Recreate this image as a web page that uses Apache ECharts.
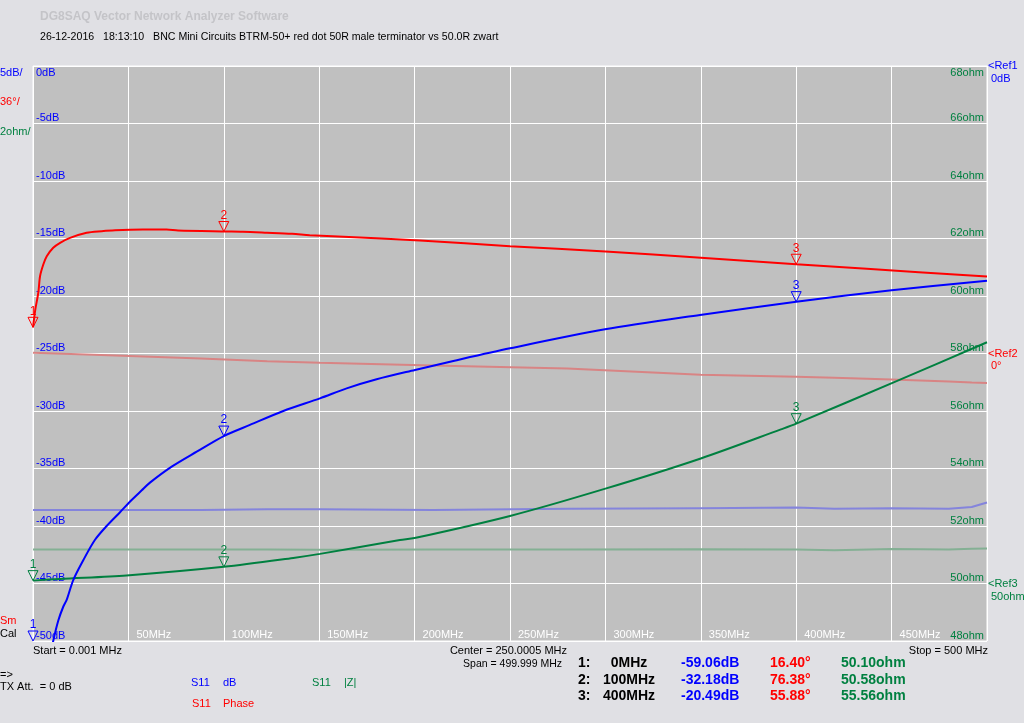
<!DOCTYPE html>
<html>
<head>
<meta charset="utf-8">
<script src="https://cdn.jsdelivr.net/npm/echarts@6/dist/echarts.min.js"></script>
<style>
html,body{margin:0;padding:0;background:#E0E0E4;}
#chart{width:1024px;height:723px;}
</style>
</head>
<body>
<div id="chart"></div>
<script>
// ---- data (frequencies in MHz) ----
const freqPhase = [0.001, 1.2, 2.8, 3.7, 5.4, 7.2, 10.6, 14.2, 19.4, 28.1, 36, 43, 57.6, 70, 76, 100, 110, 122.6, 135.8, 145, 157, 202.8, 250, 300, 350, 400, 437, 500];
const s11Phase = [16.4, 27.5, 38.2, 48.4, 55.7, 60.9, 66.2, 69.3, 72.4, 75.6, 76.6, 77.2, 77.6, 77.6, 77.0, 76.38, 76.2, 75.6, 74.9, 74.1, 73.4, 70.7, 67.2, 63.9, 59.9, 55.88, 53.0, 48.2];

const freqDb = [0.001, 5, 8, 10.6, 13.3, 15.9, 17.7, 21.1, 26.4, 32.5, 38.6, 45.6, 51.7, 57, 61.3, 72.7, 85.8, 100, 113.7, 131.2, 150.4, 164.4, 180.1, 200.2, 220.3, 250, 299.8, 349.6, 400, 450, 500];
const s11Db = [-59.06, -55.5, -52.2, -50, -48.2, -47.0, -46.4, -44.7, -42.96, -41.2, -40.0, -38.8, -37.74, -36.9, -36.23, -34.84, -33.54, -32.18, -31.21, -30.0, -28.9, -28.03, -27.24, -26.43, -25.65, -24.55, -22.9, -21.65, -20.49, -19.5, -18.67];

const freqZ = [0.001, 14.2, 49, 100, 136.4, 150.4, 192.3, 200, 250, 300, 350, 392, 400, 452.6, 500];
const s11Z = [50.10, 50.16, 50.28, 50.58, 50.89, 51.03, 51.51, 51.58, 52.35, 53.3, 54.35, 55.36, 55.56, 57.04, 58.39];

// memory (calibration standard) traces
const memFreq = [0.001, 35.6, 87.9, 122.8, 150.4, 209.6, 280, 350, 400, 420, 450, 480, 492, 500];
const memPhase = [0.4, -1.0, -3.1, -4.8, -5.8, -7.5, -9.4, -13.3, -14.6, -15.2, -16.3, -17.6, -18.2, -18.4];
const memDb = [-38.6, -38.6, -38.6, -38.55, -38.55, -38.6, -38.5, -38.45, -38.4, -38.5, -38.45, -38.5, -38.35, -37.95];
const memZ = [51.18, 51.18, 51.18, 51.18, 51.17, 51.18, 51.18, 51.19, 51.18, 51.16, 51.2, 51.18, 51.21, 51.22];

// markers
const markerNo = [1, 2, 3];
const markerFreq = [0, 100, 400];
const markerDb = [-59.06, -32.18, -20.49];
const markerDeg = [16.40, 76.38, 55.88];
const markerOhm = [50.10, 50.58, 55.56];

// axis ticks
const xTicks = { min: 0, max: 500, step: 50 };
const dbTicks = { min: -50, max: 0, step: 5 };
const degTicks = { min: -180, max: 180, step: 36 };
const ohmTicks = { min: 48, max: 68, step: 2 };

// ---- styles ----
const FONT = '"Liberation Sans", Arial, sans-serif';
const C_BLUE = '#0000FF', C_RED = '#FF0000', C_GREEN = '#008040';
const C_LBLUE = '#8484DC', C_LRED = '#D88484', C_LGREEN = '#84B094';

const zip = (a, b) => a.map((v, i) => [v, b[i]]);

function markerRender(color) {
  return function (params, api) {
    const cs = params.coordSys;
    const p = api.coord([api.value(0), api.value(1)]);
    const x = p[0];
    const y = Math.min(Math.max(p[1], cs.y), cs.y + cs.height);
    return {
      type: 'group',
      children: [
        { type: 'polygon', shape: { points: [[x - 5, y - 10], [x + 5, y - 10], [x, y]] },
          style: { fill: 'none', stroke: color, lineWidth: 1 } },
        { type: 'text', x: x, y: y - 10,
          style: { text: String(api.value(2)), fill: color, font: '12px ' + FONT, align: 'center', verticalAlign: 'bottom' } }
      ]
    };
  };
}

function markerSeries(yIdx, vals, color) {
  return {
    type: 'custom', xAxisIndex: 0, yAxisIndex: yIdx, clip: false, silent: true, z: 10,
    renderItem: markerRender(color),
    encode: { x: 0, y: 1 },
    data: markerFreq.map((f, i) => [f, vals[i], markerNo[i]])
  };
}

function txt(text, x, y, color, opts) {
  opts = opts || {};
  return {
    type: 'text', x: x, y: y, silent: true,
    style: { text: text, fill: color, font: (opts.bold ? 'bold ' : '') + (opts.size || 11) + 'px ' + FONT,
      align: opts.align || 'left', verticalAlign: 'middle' }
  };
}

const graphics = [
  txt('DG8SAQ Vector Network Analyzer Software', 40, 17, '#C4C4C8', { bold: true, size: 12 }),
  txt('26-12-2016   18:13:10   BNC Mini Circuits BTRM-50+ red dot 50R male terminator vs 50.0R zwart', 40, 37, '#000000', { size: 10.6 }),
  txt('5dB/', 0, 73, C_BLUE),
  txt('36°/', 0, 102, C_RED),
  txt('2ohm/', 0, 132, C_GREEN),
  txt('Sm', 0, 621, C_RED),
  txt('Cal', 0, 634, '#000000'),
  txt('0dB', 36, 73, C_BLUE),
  txt('68ohm', 984, 73, C_GREEN, { align: 'right' }),
  txt('<Ref1', 988, 66, C_BLUE),
  txt('0dB', 991, 79, C_BLUE),
  txt('<Ref2', 988, 354, C_RED),
  txt('0°', 991, 366, C_RED),
  txt('<Ref3', 988, 584, C_GREEN),
  txt('50ohm', 991, 597, C_GREEN),
  txt('Start = 0.001 MHz', 33, 651, '#000000'),
  txt('Center = 250.0005 MHz', 567, 651, '#000000', { align: 'right' }),
  txt('Span = 499.999 MHz', 562, 664, '#000000', { align: 'right', size: 10.5 }),
  txt('Stop = 500 MHz', 988, 651, '#000000', { align: 'right' }),
  txt('=>', 0, 675, '#000000'),
  txt('TX Att.  = 0 dB', 0, 687, '#000000'),
  txt('S11', 191, 683, C_BLUE), txt('dB', 223, 683, C_BLUE),
  txt('S11', 312, 683, C_GREEN), txt('|Z|', 344, 683, C_GREEN),
  txt('S11', 192, 704, C_RED), txt('Phase', 223, 704, C_RED)
];
const rowY = [663, 680, 696];
markerNo.forEach((n, i) => {
  graphics.push(txt(n + ':', 578, rowY[i], '#000000', { bold: true, size: 14 }));
  graphics.push(txt(markerFreq[i] + 'MHz', 629, rowY[i], '#000000', { bold: true, size: 14, align: 'center' }));
  graphics.push(txt(markerDb[i].toFixed(2) + 'dB', 681, rowY[i], C_BLUE, { bold: true, size: 14 }));
  graphics.push(txt(markerDeg[i].toFixed(2) + '°', 770, rowY[i], C_RED, { bold: true, size: 14 }));
  graphics.push(txt(markerOhm[i].toFixed(2) + 'ohm', 841, rowY[i], C_GREEN, { bold: true, size: 14 }));
});

const chart = echarts.init(document.getElementById('chart'), null, { renderer: 'canvas' });
chart.setOption({
  animation: false,
  backgroundColor: '#E0E0E4',
  grid: { left: 33, right: 37, top: 66, bottom: 82, show: true, backgroundColor: '#C0C0C0', borderColor: '#FFFFFF', borderWidth: 1 },
  xAxis: {
    type: 'value', min: xTicks.min, max: xTicks.max, interval: xTicks.step,
    axisLine: { show: false }, axisTick: { show: false },
    splitLine: { show: true, lineStyle: { color: '#FFFFFF', width: 1 } },
    axisLabel: { inside: true, align: 'left', verticalAlign: 'bottom', margin: 1, padding: [0, 0, 0, 8],
      color: '#FFFFFF', fontSize: 11, fontFamily: FONT, showMinLabel: false, showMaxLabel: false,
      formatter: v => v + 'MHz' }
  },
  yAxis: [
    { type: 'value', min: dbTicks.min, max: dbTicks.max, interval: dbTicks.step, position: 'left',
      axisLine: { show: false }, axisTick: { show: false },
      splitLine: { show: true, lineStyle: { color: '#FFFFFF', width: 1 } },
      axisLabel: { inside: true, align: 'left', verticalAlign: 'bottom', margin: 3, color: C_BLUE, fontSize: 11,
        fontFamily: FONT, showMaxLabel: false, formatter: v => v + 'dB' } },
    { type: 'value', min: degTicks.min, max: degTicks.max, interval: degTicks.step, show: false },
    { type: 'value', min: ohmTicks.min, max: ohmTicks.max, interval: ohmTicks.step, position: 'right',
      axisLine: { show: false }, axisTick: { show: false }, splitLine: { show: false },
      axisLabel: { inside: true, align: 'right', verticalAlign: 'bottom', margin: 3, color: C_GREEN, fontSize: 11,
        fontFamily: FONT, showMaxLabel: false, formatter: v => v + 'ohm' } }
  ],
  series: [
    { type: 'line', yAxisIndex: 1, data: zip(memFreq, memPhase), showSymbol: false, lineStyle: { color: C_LRED, width: 2 }, silent: true },
    { type: 'line', yAxisIndex: 0, data: zip(memFreq, memDb), showSymbol: false, lineStyle: { color: C_LBLUE, width: 2 }, silent: true },
    { type: 'line', yAxisIndex: 2, data: zip(memFreq, memZ), showSymbol: false, lineStyle: { color: C_LGREEN, width: 2 }, silent: true },
    { type: 'line', yAxisIndex: 2, data: zip(freqZ, s11Z), showSymbol: false, smooth: 0.3, lineStyle: { color: C_GREEN, width: 2 }, silent: true },
    { type: 'line', yAxisIndex: 0, data: zip(freqDb, s11Db), showSymbol: false, smooth: 0.3, lineStyle: { color: C_BLUE, width: 2 }, silent: true },
    { type: 'line', yAxisIndex: 1, data: zip(freqPhase, s11Phase), showSymbol: false, smooth: 0.3, lineStyle: { color: C_RED, width: 2 }, silent: true },
    markerSeries(2, markerOhm, C_GREEN),
    markerSeries(0, markerDb, C_BLUE),
    markerSeries(1, markerDeg, C_RED)
  ],
  graphic: graphics
});
</script>
</body>
</html>
